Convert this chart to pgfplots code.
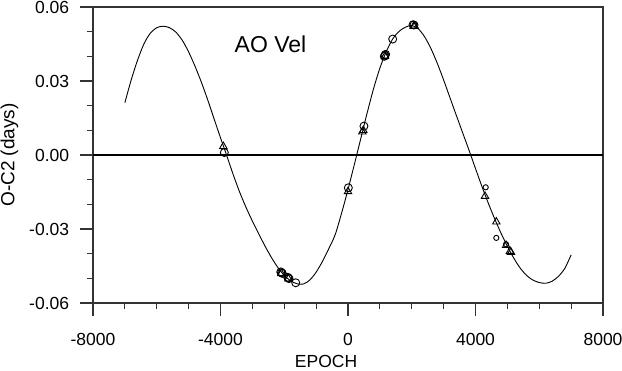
\documentclass[border=0pt]{standalone}
\usepackage{fontspec}
\setmainfont{Liberation Sans}
\usepackage{pgfplots}
\pgfplotsset{compat=1.18}

% fitted O-C2 curve
\pgfplotstableread{
E y
-7000 0.0212
-6800 0.0305
-6600 0.0385
-6400 0.0451
-6200 0.0494
-6000 0.0516
-5800 0.0522
-5600 0.0516
-5400 0.0498
-5200 0.0465
-5000 0.0418
-4800 0.0360
-4600 0.0295
-4400 0.0223
-4200 0.0146
-4000 0.0070
-3800 -0.0004
-3600 -0.0080
-3400 -0.0150
-3200 -0.0212
-3000 -0.0268
-2800 -0.0320
-2600 -0.0370
-2400 -0.0416
-2200 -0.0456
-2000 -0.0488
-1800 -0.0510
-1600 -0.0522
-1400 -0.0523
-1200 -0.0507
-1000 -0.0475
-800 -0.0431
-600 -0.0379
-400 -0.0322
-200 -0.0235
0 -0.0140
200 -0.0038
400 0.0066
600 0.0170
800 0.0268
1000 0.0352
1200 0.0419
1400 0.0470
1600 0.0501
1800 0.0518
2000 0.0525
2200 0.0512
2400 0.0480
2600 0.0432
2800 0.0372
3000 0.0304
3200 0.0232
3400 0.0160
3600 0.0089
3800 0.0018
4000 -0.0055
4200 -0.0127
4400 -0.0195
4600 -0.0258
4800 -0.0317
5000 -0.0370
5200 -0.0418
5400 -0.0458
5600 -0.0488
5800 -0.0507
6000 -0.0517
6200 -0.0520
6400 -0.0512
6600 -0.0492
6800 -0.0460
7000 -0.0405
}\fitcurve

\pgfplotstableread{
E y
-3880 0.0010
-2110 -0.0474
-2085 -0.0477
-2060 -0.0480
-1890 -0.0496
-1870 -0.0499
-1850 -0.0501
-1640 -0.0518
10 -0.0133
500 0.0117
1140 0.0400
1160 0.0404
1180 0.0408
1402 0.0470
2040 0.0528
2070 0.0527
}\bigcirc

\pgfplotstableread{
E y
-3912 0.0035
-2090 -0.0480
-1870 -0.0502
0 -0.0148
450 0.0094
480 0.0100
1160 0.0400
2060 0.0522
2090 0.0523
4298 -0.0167
4653 -0.0271
4960 -0.0366
5082 -0.0390
5113 -0.0394
}\triang

\pgfplotstableread{
E y
4320 -0.0131
4653 -0.0336
4957 -0.0362
}\smallcirc

\begin{document}
\begin{tikzpicture}
\begin{axis}[
  scale only axis, width=510pt, height=296pt,
  xmin=-8000, xmax=8000, ymin=-0.06, ymax=0.06,
  xtick={-8000,-4000,0,4000,8000},
  ytick={-0.06,-0.03,0,0.03,0.06},
  minor x tick num=3, minor y tick num=2,
  xtick pos=left, ytick pos=left,
  xtick align=outside, ytick align=outside,
  tickwidth=13pt, subtickwidth=6pt,
  every tick/.style={black!80, line width=1.1pt},
  scaled x ticks=false, scaled y ticks=false,
  xticklabel style={/pgf/number format/1000 sep={}, /pgf/number format/assume math mode=true, yshift=-13pt},
  yticklabel style={/pgf/number format/fixed, /pgf/number format/fixed zerofill, /pgf/number format/precision=2, /pgf/number format/assume math mode=true, xshift=-7pt},
  tick label style={font=\fontsize{17.5}{18}\selectfont},
  axis line style={black!80},
  every axis/.append style={line width=1.1pt},
  xlabel={EPOCH},
  xlabel style={font=\fontsize{17.5}{18}\selectfont, at={(axis description cs:0.457,0)}, anchor=base, yshift=-64pt},
  ylabel={O-C2 (days)},
  ylabel style={font=\fontsize{19}{19}\selectfont, at={(axis description cs:0,0.5)}, anchor=center, yshift=83.5pt},
  clip=false,
]
\coordinate (bl) at (rel axis cs:0,0);
% outward ticks on the bottom and left edges
\pgfplotsinvokeforeach{-8000,-4000,0,4000,8000}{
  \draw[black!80, line width=1.1pt] (axis cs:#1,-0.06) -- ([yshift=-13pt]axis cs:#1,-0.06);}
\pgfplotsinvokeforeach{-7000,-6000,-5000,-3000,-2000,-1000,1000,2000,3000,5000,6000,7000}{
  \draw[black!80, line width=1.1pt] (axis cs:#1,-0.06) -- ([yshift=-6pt]axis cs:#1,-0.06);}
\pgfplotsinvokeforeach{-0.06,-0.03,0,0.03,0.06}{
  \draw[black!80, line width=1.1pt] (axis cs:-8000,#1) -- ([xshift=-13pt]axis cs:-8000,#1);}
\pgfplotsinvokeforeach{-0.05,-0.04,-0.02,-0.01,0.01,0.02,0.04,0.05}{
  \draw[black!80, line width=1.1pt] (axis cs:-8000,#1) -- ([xshift=-6pt]axis cs:-8000,#1);}
\addplot[black, line width=1.1pt] coordinates {(-8000,0) (8000,0)};
\addplot[black, line width=0.9pt, smooth] table[x=E, y=y] {\fitcurve};
\addplot[only marks, mark=o, mark size=4pt, mark options={line width=0.9pt, black}] table[x=E, y=y] {\bigcirc};
\addplot[only marks, mark=triangle, mark size=4.3pt, mark options={line width=0.9pt, black}] table[x=E, y=y] {\triang};
\addplot[only marks, mark=o, mark size=2.6pt, mark options={line width=0.9pt, black}] table[x=E, y=y] {\smallcirc};
\node[anchor=base, font=\fontsize{23}{23}\selectfont] at (axis cs:-2431,0.0415) {AO Vel};
\end{axis}
\pgfresetboundingbox
\useasboundingbox (bl) ++(-93pt,-67pt) rectangle ++(622pt,370pt);
\end{tikzpicture}
\end{document}
